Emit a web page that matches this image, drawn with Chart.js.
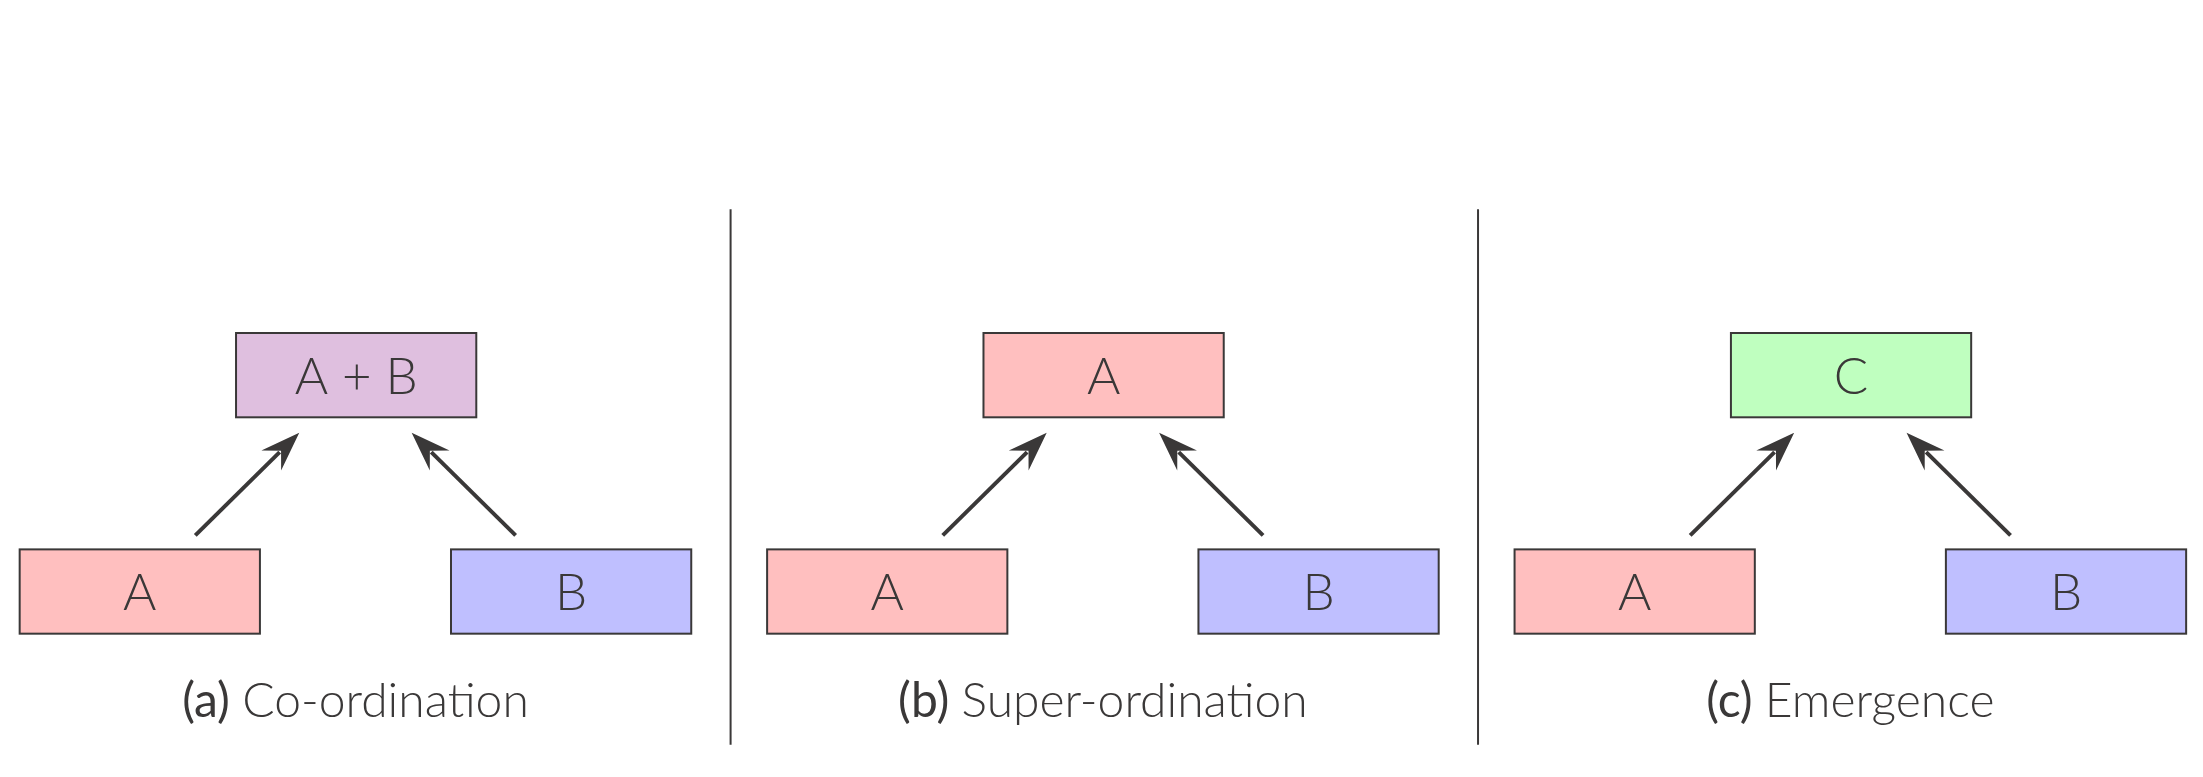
<!DOCTYPE html>
<html>
<head>
<meta charset="utf-8">
<script src="https://cdn.jsdelivr.net/npm/chart.js@4/dist/chart.umd.min.js"></script>
<style>
  html, body { margin: 0; padding: 0; background: #fff; }
  canvas { display: block; }
</style>
</head>
<body>
<canvas id="diagram" width="2203" height="777"></canvas>
<script>
// panel data (diagram units, reference image 1568 x 553)
const panelOffsets = [0, 532, 1064];
const panelTags = ['(a)', '(b)', '(c)'];
const panelTitles = ['Co-ordination', 'Super-ordination', 'Emergence'];
const topLabels = ['A + B', 'A', 'C'];
const topColors = ['#dfbfdf', '#ffbfbf', '#bfffbf'];
const leftLabel = 'A';
const rightLabel = 'B';
const leftColor = '#ffbfbf';
const rightColor = '#bfbfff';
const dividerX = [520, 1052];

// box geometry in diagram units: [x0, y0, x1, y1]
const topBox = [168, 237, 339, 297];
const leftBox = [14, 391, 185, 451];
const rightBox = [321, 391, 492, 451];
const arrowLeft = [139, 381, 213, 308];
const arrowRight = [367, 381, 293, 308];

const ink = '#3a3838';

const diagramPlugin = {
    id: 'diagram',
    afterDatasetsDraw(chart) {
        const ctx = chart.ctx;
        const sx = chart.scales.x;
        const sy = chart.scales.y;
        const px = v => sx.getPixelForValue(v);
        const py = v => sy.getPixelForValue(v);
        const unit = px(1) - px(0);

        function box(b, dx, fill, label) {
            const x0 = px(b[0] + dx), y0 = py(b[1]), x1 = px(b[2] + dx), y1 = py(b[3]);
            ctx.fillStyle = fill;
            ctx.fillRect(x0, y0, x1 - x0, y1 - y0);
            ctx.strokeStyle = ink;
            ctx.lineWidth = 2;
            ctx.strokeRect(x0, y0, x1 - x0, y1 - y0);
            ctx.fillStyle = ink;
            ctx.font = '300 ' + Math.round(36 * unit) + 'px Lato';
            ctx.textAlign = 'center';
            ctx.textBaseline = 'middle';
            ctx.fillText(label, (x0 + x1) / 2, (y0 + y1) / 2 + 2);
        }

        function arrow(a, dx) {
            const x0 = px(a[0] + dx), y0 = py(a[1]), x1 = px(a[2] + dx), y1 = py(a[3]);
            const ang = Math.atan2(y1 - y0, x1 - x0);
            const len = 28 * unit, w = 10 * unit;
            ctx.strokeStyle = ink;
            ctx.fillStyle = ink;
            ctx.lineWidth = 4;
            ctx.beginPath();
            ctx.moveTo(x0, y0);
            ctx.lineTo(x1 - Math.cos(ang) * len * 0.7, y1 - Math.sin(ang) * len * 0.7);
            ctx.stroke();
            const bx = x1 - Math.cos(ang) * len, by = y1 - Math.sin(ang) * len;
            const nx = -Math.sin(ang), ny = Math.cos(ang);
            ctx.beginPath();
            ctx.moveTo(x1, y1);
            ctx.lineTo(bx + nx * w, by + ny * w);
            ctx.lineTo(x1 - Math.cos(ang) * len * 0.65, y1 - Math.sin(ang) * len * 0.65);
            ctx.lineTo(bx - nx * w, by - ny * w);
            ctx.closePath();
            ctx.fill();
        }

        ctx.save();
        dividerX.forEach(x => {
            ctx.strokeStyle = ink;
            ctx.lineWidth = 2;
            ctx.beginPath();
            ctx.moveTo(px(x), py(149));
            ctx.lineTo(px(x), py(530));
            ctx.stroke();
        });

        panelOffsets.forEach((dx, i) => {
            box(topBox, dx, topColors[i], topLabels[i]);
            box(leftBox, dx, leftColor, leftLabel);
            box(rightBox, dx, rightColor, rightLabel);
            arrow(arrowLeft, dx);
            arrow(arrowRight, dx);

            // caption
            const size = Math.round(34 * unit);
            ctx.textBaseline = 'middle';
            ctx.textAlign = 'left';
            ctx.font = '400 ' + size + 'px Lato';
            const tagW = ctx.measureText(panelTags[i] + ' ').width;
            ctx.font = '300 ' + size + 'px Lato';
            const titleW = ctx.measureText(panelTitles[i]).width;
            const start = px(253 + dx) - (tagW + titleW) / 2;
            ctx.fillStyle = ink;
            ctx.font = '400 ' + size + 'px Lato';
            ctx.fillText(panelTags[i] + ' ', start, py(499));
            ctx.font = '300 ' + size + 'px Lato';
            ctx.fillText(panelTitles[i], start + tagW, py(499));
        });
        ctx.restore();
    }
};

new Chart(document.getElementById('diagram'), {
    type: 'scatter',
    data: { datasets: [{ data: [], pointRadius: 0 }] },
    options: {
        responsive: false,
        devicePixelRatio: 1,
        animation: false,
        layout: { padding: 0 },
        plugins: { legend: { display: false }, tooltip: { enabled: false } },
        scales: {
            x: { type: 'linear', min: 0, max: 1568, display: false },
            y: { type: 'linear', min: 0, max: 553, reverse: true, display: false }
        }
    },
    plugins: [diagramPlugin]
});
</script>
</body>
</html>
